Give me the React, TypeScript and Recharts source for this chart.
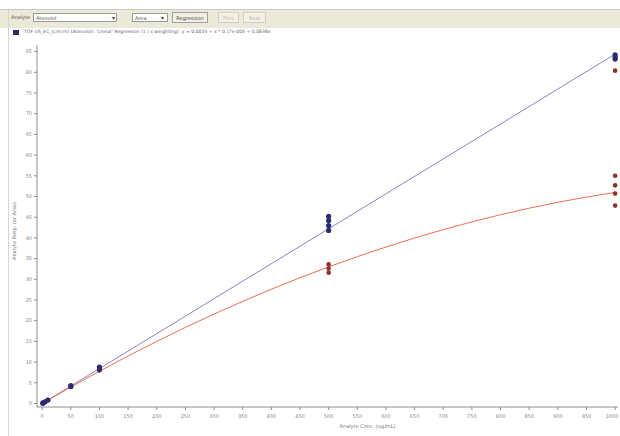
import React from 'react';
import { ComposedChart, Line, Scatter, XAxis, YAxis, ZAxis } from 'recharts';

const xTicks = [0, 50, 100, 150, 200, 250, 300, 350, 400, 450, 500, 550, 600, 650, 700, 750, 800, 850, 900, 950, 1000];
const yTicks = [0, 5, 10, 15, 20, 25, 30, 35, 40, 45, 50, 55, 60, 65, 70, 75, 80, 85];

const blueConc = [1, 2, 5, 10, 50, 50, 100, 100, 500, 500, 500, 500, 1000, 1000, 1000];
const blueResp = [0.08, 0.17, 0.42, 0.84, 4.1, 4.3, 8.2, 8.8, 45.2, 44.2, 43.0, 41.8, 84.2, 83.6, 83.2];

const redConc = [1, 2, 5, 10, 50, 100, 500, 500, 500, 1000, 1000, 1000, 1000, 1000];
const redResp = [0.08, 0.16, 0.4, 0.8, 4.0, 8.0, 33.6, 32.6, 31.6, 80.4, 55.0, 52.7, 50.7, 47.8];

const linearConc = [0, 1000];
const linearResp = [0, 84.4];

const curveConc = [0, 100, 200, 300, 400, 500, 600, 700, 800, 900, 1000];
const curveResp = [0, 7.8, 15.0, 21.6, 27.6, 33.0, 37.8, 42.0, 45.6, 48.6, 51.0];

const blueData = blueConc.map((x, i) => ({ x, y: blueResp[i] }));
const redData = redConc.map((x, i) => ({ x, y: redResp[i] }));
const linearData = linearConc.map((x, i) => ({ x, y: linearResp[i] }));
const curveData = curveConc.map((x, i) => ({ x, y: curveResp[i] }));

const tickStyle = { fontSize: 5, fill: '#8a8a8a', fontFamily: 'DejaVu Sans' };

const XTick = (props: any) => {
  const { x, y, payload } = props;
  const last = payload.value === 1000;
  return (
    <text x={last ? x + 3 : x} y={y + 6} textAnchor={last ? 'end' : 'middle'} fontSize={5} fill="#8a8a8a" fontFamily="DejaVu Sans">
      {payload.value}
    </text>
  );
};

const Dot = (color: string, r: number) => (props: any) => (
  <circle cx={props.cx} cy={props.cy} r={r} fill={color} />
);

export default function App() {
  return (
    <div style={{ position: 'fixed', top: 0, left: 0, width: 620, height: 436, background: '#fff', overflow: 'hidden', fontFamily: 'DejaVu Sans' }}>
      <div style={{ position: 'absolute', top: 9, left: 0, width: 620, height: 1, background: '#c8c8c8' }} />
      <div style={{ position: 'absolute', top: 10, left: 0, width: 620, height: 18, background: '#ebe9d8' }} />
      <div style={{ position: 'absolute', left: 8, top: 10, width: 1, height: 426, background: '#d6d6d6' }} />
      <div style={{ position: 'absolute', top: 14, left: 11, fontSize: 5, color: '#555' }}>Analyte</div>
      <div style={{ position: 'absolute', top: 13, left: 33, width: 84, height: 9, border: '1px solid #9a9a9a', background: '#fff', fontSize: 5, color: '#555', lineHeight: '9px', paddingLeft: 2, boxSizing: 'border-box' }}>Atenolol</div>
      <div style={{ position: 'absolute', top: 14, left: 112, fontSize: 6, color: '#444' }}>▾</div>
      <div style={{ position: 'absolute', top: 13, left: 132, width: 36, height: 9, border: '1px solid #9a9a9a', background: '#fff', fontSize: 5, color: '#555', lineHeight: '9px', paddingLeft: 2, boxSizing: 'border-box' }}>Area</div>
      <div style={{ position: 'absolute', top: 14, left: 161, fontSize: 6, color: '#444' }}>▾</div>
      <div style={{ position: 'absolute', top: 12, left: 172, width: 36, height: 11, border: '1px solid #a0a0a0', background: '#f2f0e4', fontSize: 5, color: '#444', lineHeight: '11px', textAlign: 'center', boxSizing: 'border-box' }}>Regression</div>
      <div style={{ position: 'absolute', top: 12, left: 218, width: 21, height: 11, border: '1px solid #d0d0c8', background: '#f2f0e4', fontSize: 5, color: '#bbb', lineHeight: '11px', textAlign: 'center', boxSizing: 'border-box' }}>Prev</div>
      <div style={{ position: 'absolute', top: 12, left: 243, width: 23, height: 11, border: '1px solid #d0d0c8', background: '#f2f0e4', fontSize: 5, color: '#bbb', lineHeight: '11px', textAlign: 'center', boxSizing: 'border-box' }}>Next</div>
      <div style={{ position: 'absolute', top: 30, left: 13, width: 6, height: 5, background: '#2a2a6e' }} />
      <div style={{ position: 'absolute', top: 29, left: 24, fontSize: 4.6, color: '#666', whiteSpace: 'nowrap' }}>TOF US_EC_(c/Vcm) (Atenolol): 'Linear' Regression (1 / x weighting): y = 0.0035 + x * 0.1?e-005 + 0.0836x</div>
      <div style={{ position: 'absolute', left: 0, top: 0 }}>
        <ComposedChart width={620} height={436} margin={{ top: 45, right: 2, bottom: 9, left: 7 }}>
          <XAxis
            type="number"
            dataKey="x"
            domain={[-9, 1005]}
            ticks={xTicks}
            allowDataOverflow
            height={20}
            stroke="#8c8c8c"
            tickSize={3}
            tick={<XTick />}
            tickLine={{ stroke: '#8c8c8c' }}
            interval={0}
            label={{ value: 'Analyte Conc. (ug/mL)', position: 'insideBottom', offset: -1, dx: 40, style: { fontSize: 5, fill: '#777' } }}
          />
          <YAxis
            type="number"
            dataKey="y"
            domain={[-0.85, 86.6]}
            ticks={yTicks}
            allowDataOverflow
            width={30}
            stroke="#8c8c8c"
            tickSize={3}
            tick={tickStyle}
            interval={0}
            label={{ value: 'Analyte Resp. (or Area)', angle: -90, position: 'insideLeft', dx: 2, dy: 34, style: { fontSize: 5, fill: '#777' } }}
          />
          <ZAxis range={[20, 20]} />
          <Line data={linearData} dataKey="y" type="linear" stroke="#8585c8" strokeWidth={1} dot={false} isAnimationActive={false} />
          <Line data={curveData} dataKey="y" type="monotone" stroke="#ee6e55" strokeWidth={1} dot={false} isAnimationActive={false} />
          <Scatter data={redData} dataKey="y" fill="#8a3328" shape={Dot('#8a3328', 2.3)} isAnimationActive={false} />
          <Scatter data={blueData} dataKey="y" fill="#2b2b72" shape={Dot('#2b2b72', 2.6)} isAnimationActive={false} />
        </ComposedChart>
      </div>
    </div>
  );
}
